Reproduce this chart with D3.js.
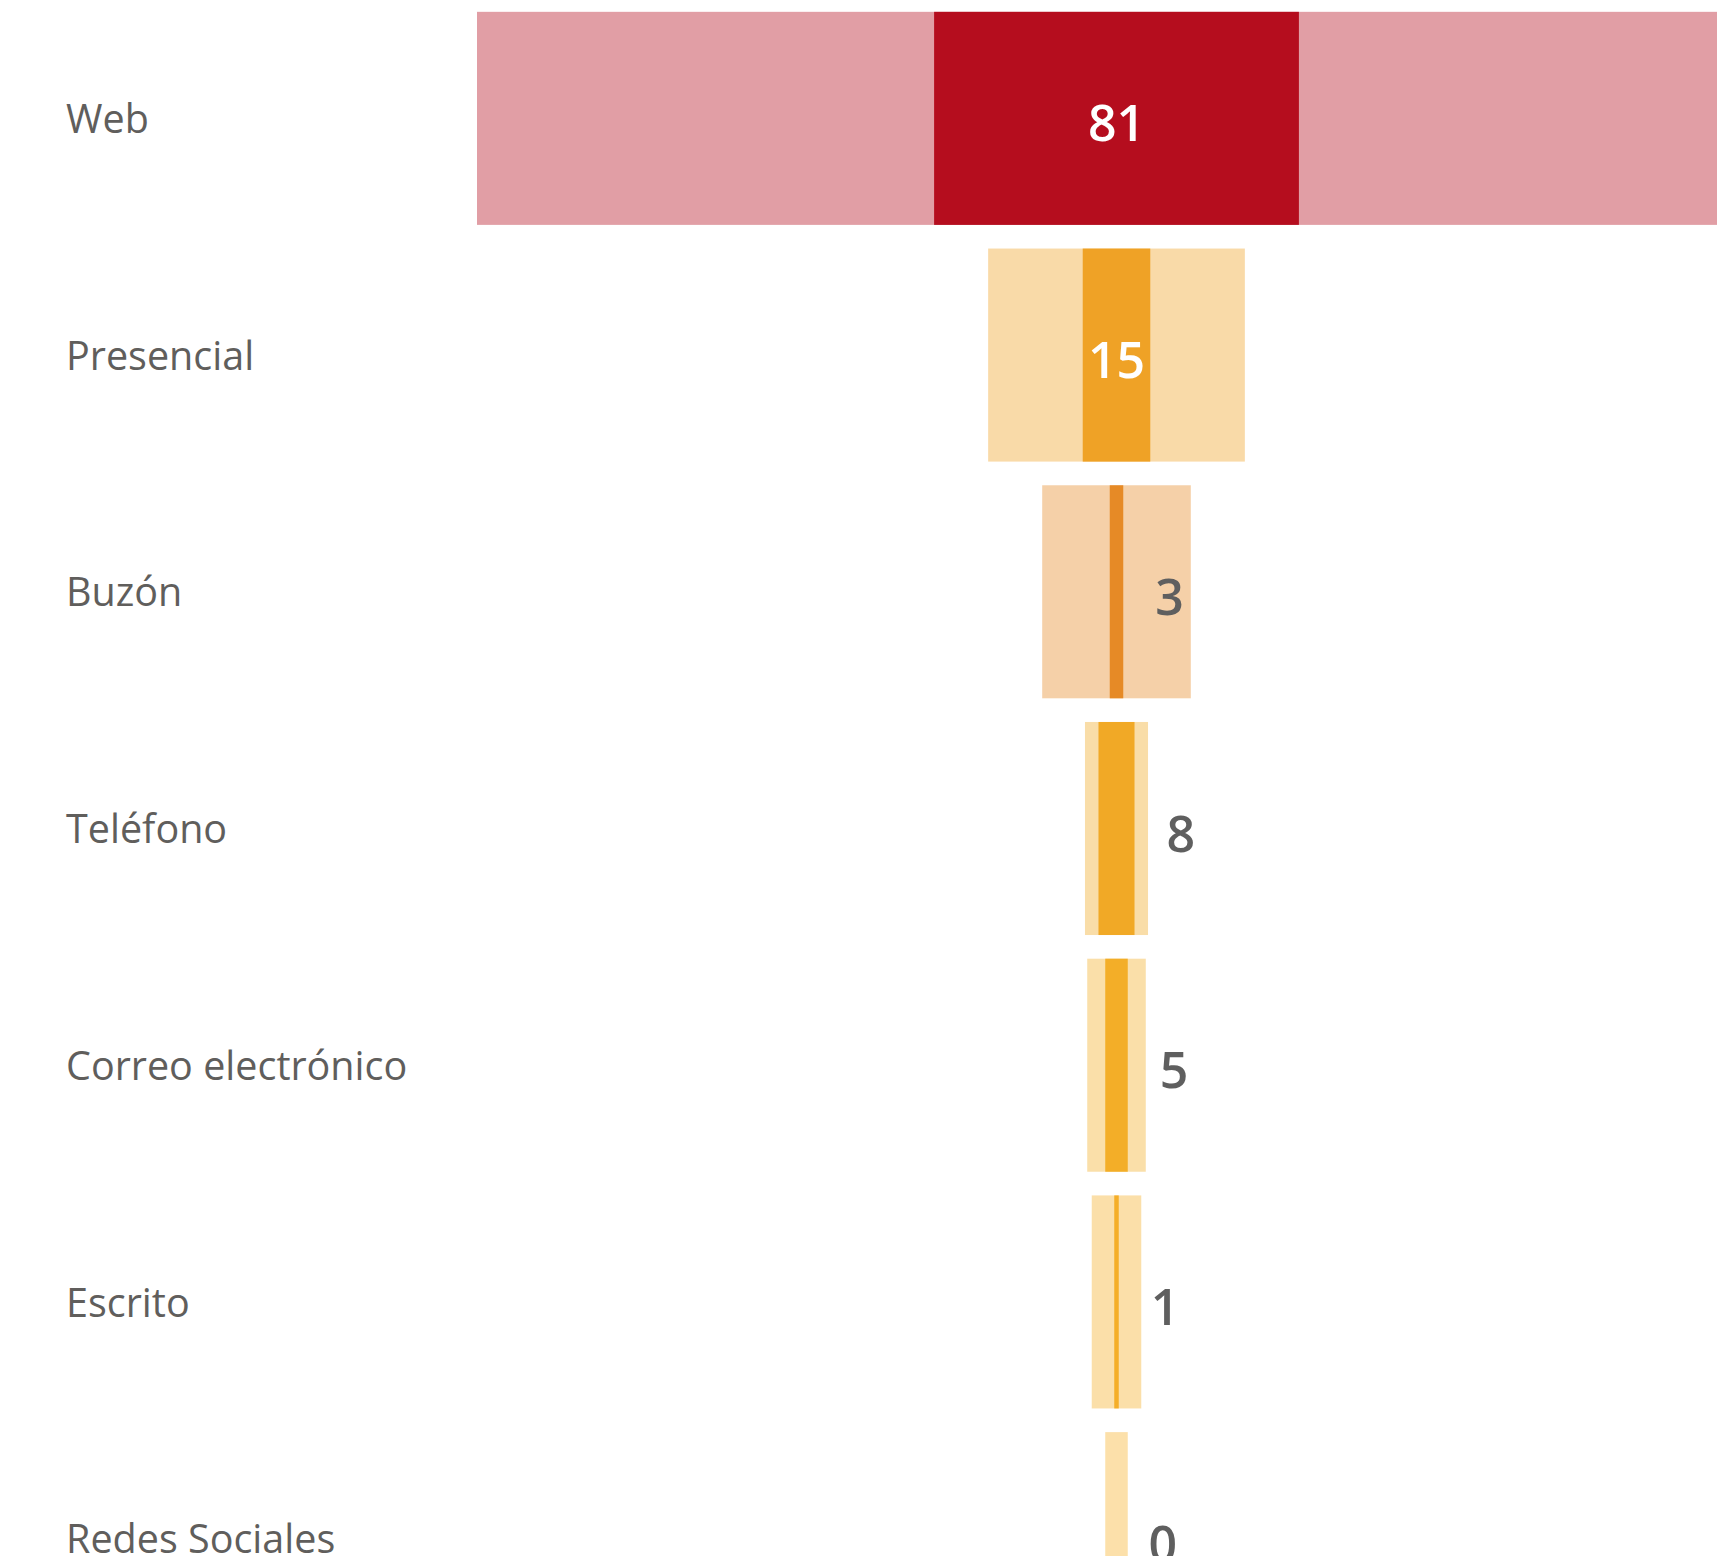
<!DOCTYPE html>
<html>
<head>
<meta charset="utf-8">
<script src="https://cdn.jsdelivr.net/npm/d3@7"></script>
<style>
  body { margin: 0; background: #fff; overflow: hidden; }
  text { font-family: "Segoe UI", "Open Sans", sans-serif; }
</style>
</head>
<body>
<svg id="chart" width="1717" height="1556"></svg>
<script>
// data
let categories = ["Web", "Presencial", "Buzón", "Teléfono", "Correo electrónico", "Escrito", "Redes Sociales"];
let values = [81, 15, 3, 8, 5, 1, 0];          // dark bars (labelled)
let totals = [284, 57, 33, 14, 13, 11, 5];      // pale bars behind
let colors = ["#B50D1E", "#EFA226", "#E68A26", "#F1A926", "#F3AE28", "#F5AE28", "#F7B12A"];

let svg = d3.select("#chart");

let cx = 1116.5;   // funnel axis

let rows = categories.map(function (c, i) {
    return { cat: c, value: values[i], total: totals[i], color: colors[i] };
});

//? scales
let x = d3.scaleLinear().domain([0, 284]).range([0, 1279]);
let y = d3.scaleBand()
    .domain(categories)
    .range([0, 1657])
    .paddingInner(0.1)
    .paddingOuter(0.05);

//? pale bars
svg.append("g")
    .selectAll("rect")
    .data(rows)
    .enter()
    .append("rect")
    .attr("x", function (d) { return cx - x(d.total) / 2; })
    .attr("y", function (d) { return y(d.cat); })
    .attr("width", function (d) { return x(d.total); })
    .attr("height", y.bandwidth())
    .attr("fill", function (d) { return d.color; })
    .attr("fill-opacity", 0.4);

//? value bars
svg.append("g")
    .selectAll("rect")
    .data(rows)
    .enter()
    .append("rect")
    .attr("x", function (d) { return cx - x(d.value) / 2; })
    .attr("y", function (d) { return y(d.cat); })
    .attr("width", function (d) { return x(d.value); })
    .attr("height", y.bandwidth())
    .attr("fill", function (d) { return d.color; });

//? category labels
svg.append("g")
    .selectAll("text")
    .data(rows)
    .enter()
    .append("text")
    .attr("x", 66)
    .attr("y", function (d) { return y(d.cat) + y.bandwidth() / 2; })
    .attr("dy", "0.37em")
    .attr("font-size", 39.5)
    .attr("fill", "#605E5C")
    .text(function (d) { return d.cat; });

//? value labels (inside when the bar is wide enough)
function inside(d) { return x(d.value) > 60; }

svg.append("g")
    .selectAll("text")
    .data(rows)
    .enter()
    .append("text")
    .attr("x", function (d) {
        return inside(d) ? cx : cx + x(d.value) / 2 + 32;
    })
    .attr("y", function (d) { return y(d.cat) + y.bandwidth() / 2; })
    .attr("dy", "0.46em")
    .attr("text-anchor", function (d) { return inside(d) ? "middle" : "start"; })
    .attr("font-size", 50)
    .attr("font-weight", 600)
    .attr("fill", function (d) { return inside(d) ? "#ffffff" : "#5F5F5F"; })
    .text(function (d) { return d.value; });
</script>
</body>
</html>
